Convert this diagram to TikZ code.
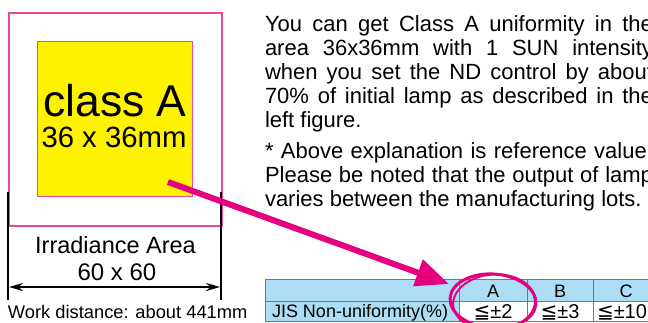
\documentclass[tikz,border=0pt]{standalone}
\usepackage{fontspec}
\setmainfont{Liberation Sans}
\newfontfamily\fSym{DejaVu Sans}
\usetikzlibrary{arrows.meta}
\definecolor{boxpink}{RGB}{236,70,152}
\definecolor{hiyellow}{RGB}{255,242,0}
\definecolor{mag}{RGB}{228,0,127}
\definecolor{lblue}{RGB}{172,221,245}
\definecolor{tgray}{RGB}{120,120,120}
\newcommand{\myleqq}{{\fSym\fontsize{20}{20}\selectfont ≦}}
\begin{document}
\begin{tikzpicture}[x=1pt,y=-1pt,
  txt/.style={inner sep=0pt, outer sep=0pt},
  para/.style={txt, anchor=base west, font=\fontsize{22}{24}\selectfont},
  cell/.style={draw=tgray, line width=1.2pt},
  tcell/.style={txt, anchor=base, font=\fontsize{18}{20}\selectfont},
  vcell/.style={txt, anchor=base, font=\fontsize{20}{20}\selectfont},
  dimline/.style={line width=2pt},
]
\useasboundingbox (0,0) rectangle (648,322);
% left figure
\node[draw=boxpink, line width=1.5pt, minimum width=213pt, minimum height=213pt, inner sep=0, anchor=north west] (outer) at (8,12) {};
\node[draw=boxpink, fill=hiyellow, line width=1pt, minimum width=155pt, minimum height=155pt, inner sep=0, anchor=north west] (inner) at (37,41) {};
\node[txt, anchor=base, font=\fontsize{44.5}{48}\selectfont] (cls) at (115,116.7) {class A};
\node[txt, anchor=base, font=\fontsize{29.3}{32}\selectfont] (sz) at (114,147.3) {36 x 36mm};
\coordinate (lt) at (8,192); \coordinate (lb) at (8,300);
\coordinate (rt) at (221,192); \coordinate (rb) at (221,300);
\draw[dimline] (lt) -- (lb);
\draw[dimline] (rt) -- (rb);
\coordinate (al) at (9,287); \coordinate (ar) at (220,287);
\draw[dimline, {Stealth[length=14pt,width=8pt]}-{Stealth[length=14pt,width=8pt]}] (al) -- (ar);
\node[txt, anchor=base, font=\fontsize{23.5}{26}\selectfont] (irr) at (115.5,253) {Irradiance Area};
\node[txt, anchor=base, font=\fontsize{24}{26}\selectfont] (sixty) at (117,280.5) {60 x 60};
\node[txt, anchor=base west, font=\fontsize{18.3}{20}\selectfont] (work) at (8,318.5) {Work distance: about 441mm};
% paragraph
\node[para] (p1) at (265,31.5) {\makebox[388pt][s]{You can get Class A uniformity in the}};
\node[para] (p2) at (265,55.5) {\makebox[388pt][s]{area 36x36mm with 1 SUN intensity}};
\node[para] (p3) at (265,79.5) {\makebox[388pt][s]{when you set the ND control by about}};
\node[para] (p4) at (265,103.5) {\makebox[388pt][s]{70\% of initial lamp as described in the}};
\node[para] (p5) at (265,127.5) {left figure.};
\node[para] (p6) at (265,158.3) {\makebox[388pt][s]{* Above explanation is reference value.}};
\node[para] (p7) at (265,182) {\makebox[388pt][s]{Please be noted that the output of lamp}};
\node[para] (p8) at (265,206) {varies between the manufacturing lots.};
% table
\node[cell, fill=lblue, minimum width=194pt, minimum height=21.5pt, inner sep=0, anchor=north west] (h0) at (265,279) {};
\node[cell, fill=lblue, minimum width=68pt, minimum height=21.5pt, inner sep=0, anchor=north west] (hA) at (459,279) {};
\node[cell, fill=lblue, minimum width=66pt, minimum height=21.5pt, inner sep=0, anchor=north west] (hB) at (527,279) {};
\node[cell, fill=lblue, minimum width=66pt, minimum height=21.5pt, inner sep=0, anchor=north west] (hC) at (593,279) {};
\node[cell, fill=lblue, minimum width=194pt, minimum height=20.5pt, inner sep=0, anchor=north west] (r0) at (265,300.5) {};
\node[cell, fill=white, minimum width=68pt, minimum height=20.5pt, inner sep=0, anchor=north west] (rA) at (459,300.5) {};
\node[cell, fill=white, minimum width=66pt, minimum height=20.5pt, inner sep=0, anchor=north west] (rB) at (527,300.5) {};
\node[cell, fill=white, minimum width=66pt, minimum height=20.5pt, inner sep=0, anchor=north west] (rC) at (593,300.5) {};
\node[tcell] (tA) at (493,297) {A};
\node[tcell] (tB) at (560,297) {B};
\node[tcell] (tC) at (626,297) {C};
\node[tcell, anchor=base west] (tJ) at (272,317.5) {JIS Non-uniformity(\%)};
\node[vcell] (vA) at (493,318) {\myleqq±2};
\node[vcell] (vB) at (560,318) {\myleqq±3};
\node[vcell, anchor=base west] (vC) at (597,318) {\myleqq±10};
% circle mark
\coordinate (ec) at (493,301);
\draw[mag, line width=3pt, rotate around={-4:(ec)}] (ec) ellipse [x radius=43pt, y radius=27pt];
\draw[mag, line width=2pt, rotate around={4:(ec)}] ([xshift=1pt,yshift=-1.5pt]ec) ellipse [x radius=41pt, y radius=28pt];
% magenta arrow
\coordinate (from) at (168,182);
\coordinate (to) at (449,284);
\draw[mag, line width=6pt, -{Triangle[length=33pt,width=27pt]}] (from) -- (to);
\end{tikzpicture}
\end{document}
